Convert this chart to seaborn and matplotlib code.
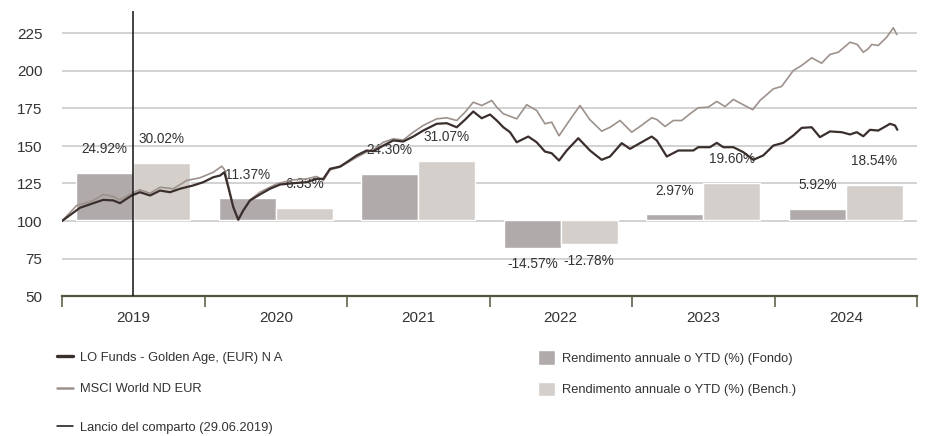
import numpy as np
import pandas as pd
import matplotlib
matplotlib.use("Agg")
import matplotlib.pyplot as plt
import seaborn as sns
from matplotlib import font_manager
from matplotlib.lines import Line2D
from matplotlib.patches import Patch

# ---------------- data ----------------
years = [2019, 2020, 2021, 2022, 2023, 2024]
fund_returns = [24.92, 11.37, 24.30, -14.57, 2.97, 5.92]
bench_returns = [30.02, 6.33, 31.07, -12.78, 19.60, 18.54]

fund_name = "LO Funds - Golden Age, (EUR) N A"
bench_name = "MSCI World ND EUR"
bar_fund_name = "Rendimento annuale o YTD (%) (Fondo)"
bar_bench_name = "Rendimento annuale o YTD (%) (Bench.)"
launch_name = "Lancio del comparto (29.06.2019)"
launch_elapsed = 0.5  # years since start of 2019 (mid-2019)

y_ticks = [50, 75, 100, 125, 150, 175, 200, 225]

# time elapsed (years since start of 2019) and indexed values
fund_elapsed = [0, 0.126, 0.220, 0.290, 0.360, 0.407, 0.489, 0.547, 0.618, 0.688,
                0.758, 0.828, 0.921, 0.992, 1.062, 1.109, 1.139, 1.167, 1.202, 1.237,
                1.272, 1.319, 1.389, 1.460, 1.530, 1.623, 1.717, 1.787, 1.834, 1.881,
                1.951, 1.998, 2.068, 2.138, 2.185, 2.255, 2.325, 2.395, 2.465, 2.535,
                2.629, 2.700, 2.770, 2.828, 2.886, 2.945, 3.004, 3.051, 3.097, 3.144,
                3.191, 3.272, 3.331, 3.389, 3.436, 3.488, 3.542, 3.623, 3.705, 3.787,
                3.846, 3.928, 3.986, 4.056, 4.138, 4.174, 4.244, 4.325, 4.430, 4.465,
                4.547, 4.595, 4.641, 4.711, 4.781, 4.851, 4.921, 4.992, 5.062, 5.132,
                5.191, 5.261, 5.319, 5.389, 5.472, 5.530, 5.577, 5.623, 5.670, 5.728,
                5.811, 5.846, 5.862]
fund_values = [100, 108.8, 111.9, 114.1, 113.7, 111.9, 117, 119.2, 117, 120.3,
               119.2, 121.5, 123.7, 125.9, 129.2, 130.3, 132.5, 122.5, 109.2, 100.8,
               107, 113.7, 117.7, 121.5, 124.3, 125.2, 125.9, 128.1, 128.1, 134.8,
               136.3, 139.2, 143.7, 147, 146.5, 150.3, 153.7, 153, 156.3, 160.3,
               164.8, 165.2, 162.5, 167.5, 173, 168.5, 171, 167, 162.5, 159.2,
               152.5, 156.3, 152.5, 146.3, 145.2, 140.3, 147, 155.2, 147, 140.8,
               143, 151.9, 148.1, 151.9, 156.3, 153.7, 143, 147, 147, 149.2,
               149.2, 152.1, 149.2, 149.2, 145.9, 140.8, 143.7, 150.3, 152.1, 157,
               162.1, 162.5, 155.9, 159.7, 159.2, 157.7, 159.2, 156.5, 160.8, 160.3,
               164.8, 163.7, 160.8]

bench_elapsed = [0, 0.103, 0.220, 0.290, 0.360, 0.407, 0.489, 0.547, 0.618, 0.688,
                 0.781, 0.875, 0.968, 1.062, 1.121, 1.144, 1.167, 1.202, 1.237, 1.272,
                 1.319, 1.389, 1.507, 1.623, 1.717, 1.787, 1.834, 1.881, 1.951, 2.068,
                 2.138, 2.185, 2.255, 2.325, 2.395, 2.465, 2.535, 2.629, 2.700, 2.770,
                 2.828, 2.886, 2.945, 3.016, 3.051, 3.097, 3.191, 3.261, 3.331, 3.389,
                 3.436, 3.488, 3.553, 3.635, 3.705, 3.787, 3.846, 3.916, 3.998, 4.056,
                 4.138, 4.174, 4.232, 4.290, 4.349, 4.407, 4.465, 4.535, 4.595, 4.653,
                 4.711, 4.781, 4.847, 4.898, 4.992, 5.050, 5.132, 5.191, 5.261, 5.331,
                 5.389, 5.448, 5.530, 5.581, 5.623, 5.658, 5.682, 5.728, 5.787, 5.834,
                 5.858]
bench_values = [100, 110.3, 113.7, 117.7, 116.3, 114.1, 118.5, 120.8, 118.5, 122.5,
                121.5, 127, 128.8, 132.5, 136.5, 133.7, 124, 110, 101.5, 107.5,
                114, 119.2, 124.8, 127.4, 128.1, 129.7, 127, 134.1, 135.9, 142.5,
                146, 147.5, 152.5, 154.8, 154, 159.2, 163.7, 168.1, 168.8, 167,
                172.5, 179.2, 177, 180.3, 175.9, 171.5, 168.1, 177.5, 173.7, 164.8,
                165.9, 156.8, 165.9, 177, 167.5, 159.9, 162.5, 167, 159.2, 163,
                168.8, 167.7, 163, 167, 167, 171.5, 175.5, 175.9, 179.7, 176.3,
                181, 177.5, 174.2, 180.3, 188.1, 189.7, 200.3, 203.7, 208.8, 205.2,
                211, 212.5, 219.2, 217.7, 212.5, 214.8, 217.7, 217, 222.5, 228.8,
                224.3]

# ---------------- styles ----------------
fund_line_col = "#3a2f2d"
bench_line_col = "#9d918b"
fund_bar_col = "#b0abaa"
bench_bar_col = "#d4cfcb"
text_col = "#333333"
grid_col = "#cfcfcf"
axis_col = "#55553f"

sns.set_theme(style="white")
names = {f.name for f in font_manager.fontManager.ttflist}
plt.rcParams["font.family"] = ["Liberation Sans", "DejaVu Sans"]
if "Liberation Sans Narrow" in names:
    lab_family = ["Liberation Sans Narrow", "Liberation Sans"]
    lab_size = 11
else:
    lab_family = ["Liberation Sans", "DejaVu Sans"]
    lab_size = 9.3

start = years[0] - 0.5
fund_x = [start + t for t in fund_elapsed]
bench_x = [start + t for t in bench_elapsed]

bar_df = pd.DataFrame({
    "year": years * 2,
    "ret": fund_returns + bench_returns,
    "serie": [bar_fund_name] * len(years) + [bar_bench_name] * len(years),
})

fig = plt.figure(figsize=(9.28, 4.36), dpi=100)
W, H = 928, 436
ax = fig.add_axes([62 / W, 1 - 296 / H, 855 / W, 285 / H])

# base axis: grid + ticks (line scale)
ax.set_ylim(50, 240)
ax.set_yticks(y_ticks)
ax.set_xlim(years[0] - 0.5, years[-1] + 0.5)
ax.set_xticks(years)
ax.set_xticks([y - 0.5 for y in years] + [years[-1] + 0.5], minor=True)
ax.grid(axis="y", color=grid_col, linewidth=1.3)
ax.grid(axis="x", visible=False)
for s in ["top", "left", "right"]:
    ax.spines[s].set_visible(False)
ax.spines["bottom"].set_color(axis_col)
ax.spines["bottom"].set_linewidth(1.6)
ax.tick_params(axis="y", length=0, pad=14, labelsize=11, labelcolor=text_col)
ax.tick_params(axis="x", which="major", bottom=True, length=0, pad=11, labelsize=11,
               labelcolor=text_col)
ax.tick_params(axis="x", which="minor", bottom=True, length=8, width=1.1,
               color=axis_col, direction="out")
for lab in ax.get_xticklabels() + ax.get_yticklabels():
    lab.set_family(["Liberation Sans", "DejaVu Sans"])

# bars (return scale)
ax_bar = ax.twinx()
sns.barplot(data=bar_df, x="year", y="ret", hue="serie", native_scale=True,
            hue_order=[bar_fund_name, bar_bench_name],
            palette=[fund_bar_col, bench_bar_col], width=0.8, dodge=True,
            saturation=1, errorbar=None, legend=False, ax=ax_bar)
ax_bar.set_ylim(-40, 110)
ax_bar.set_yticks([])
ax_bar.set_ylabel("")
ax_bar.set_xlabel("")
for s in ax_bar.spines.values():
    s.set_visible(False)
for cont in ax_bar.containers:
    for bar in cont:
        value = bar.get_y() + bar.get_height() if bar.get_height() >= 0 else bar.get_height()
        value = bar.get_height()
        xc = bar.get_x() + bar.get_width() / 2
        if value >= 0:
            ax_bar.annotate(f"{value:.2f}%", xy=(xc, value),
                            xytext=(0, 12), textcoords="offset points", ha="center", va="bottom",
                            fontsize=lab_size + 0.5, family=lab_family, color=text_col)
        else:
            ax_bar.annotate(f"{value:.2f}%", xy=(xc, value),
                            xytext=(0, -7), textcoords="offset points", ha="center", va="top",
                            fontsize=lab_size + 0.5, family=lab_family, color=text_col)

# lines (index scale)
ax_line = ax.twinx()
sns.lineplot(x=bench_x, y=bench_values, color=bench_line_col, linewidth=1.2, ax=ax_line)
sns.lineplot(x=fund_x, y=fund_values, color=fund_line_col, linewidth=1.6, ax=ax_line)
ax_line.axvline(start + launch_elapsed, color="#111111", linewidth=1.1)
ax_line.set_ylim(50, 240)
ax_line.set_yticks([])
ax_line.set_ylabel("")
for s in ax_line.spines.values():
    s.set_visible(False)
ax.set_xlim(years[0] - 0.5, years[-1] + 0.5)

# legend entries
fs_px = lab_size * 100 / 72
leg_items = [
    (Line2D([], [], color=fund_line_col, linewidth=2.4), fund_name, 57, 357.5),
    (Line2D([], [], color=bench_line_col, linewidth=1.8), bench_name, 57, 389),
    (Line2D([], [], color="#111111", linewidth=1.1), launch_name, 57, 427.5),
    (Patch(facecolor=fund_bar_col), bar_fund_name, 538, 357.5),
    (Patch(facecolor=bench_bar_col), bar_bench_name, 538, 389),
]
for handle, label, lx, ly in leg_items:
    is_patch = isinstance(handle, Patch)
    leg = fig.legend([handle], [label], loc="center left",
                     bbox_to_anchor=(lx / W, 1 - ly / H), frameon=False,
                     borderpad=0, borderaxespad=0,
                     handlelength=(17 if is_patch else 16) / fs_px,
                     handleheight=(17 / fs_px) if is_patch else 0.7,
                     handletextpad=7 / fs_px,
                     prop={"family": lab_family, "size": lab_size})
    for t in leg.get_texts():
        t.set_color(text_col)

fig.savefig("out.png", dpi=100)
